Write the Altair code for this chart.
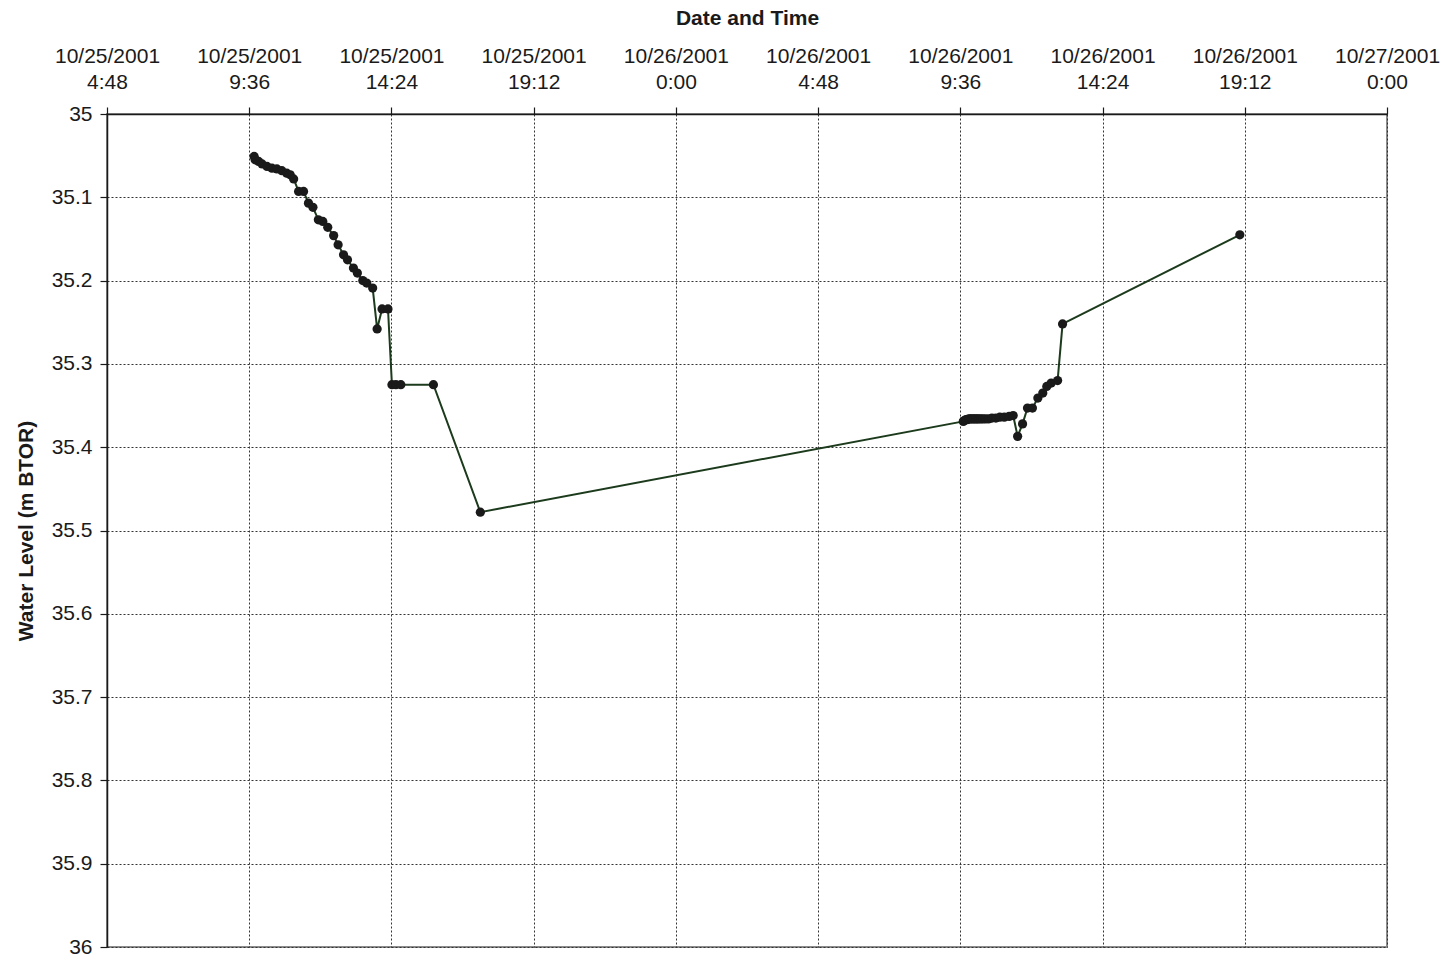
import altair as alt
import pandas as pd

# Water level readings (metres below top of riser), local date-times
times = [
    "2001-10-25 09:46", "2001-10-25 09:48", "2001-10-25 09:55", "2001-10-25 10:02",
    "2001-10-25 10:12", "2001-10-25 10:22", "2001-10-25 10:32", "2001-10-25 10:42",
    "2001-10-25 10:52", "2001-10-25 10:59", "2001-10-25 11:06", "2001-10-25 11:16",
    "2001-10-25 11:26", "2001-10-25 11:36", "2001-10-25 11:45", "2001-10-25 11:56",
    "2001-10-25 12:05", "2001-10-25 12:15", "2001-10-25 12:27", "2001-10-25 12:36",
    "2001-10-25 12:47", "2001-10-25 12:55", "2001-10-25 13:07", "2001-10-25 13:15",
    "2001-10-25 13:26", "2001-10-25 13:34", "2001-10-25 13:46", "2001-10-25 13:55",
    "2001-10-25 14:05", "2001-10-25 14:17", "2001-10-25 14:25", "2001-10-25 14:33",
    "2001-10-25 14:43", "2001-10-25 15:49", "2001-10-25 17:24",
    "2001-10-26 09:42", "2001-10-26 09:44", "2001-10-26 09:47", "2001-10-26 09:50",
    "2001-10-26 09:53", "2001-10-26 09:56", "2001-10-26 09:59", "2001-10-26 10:02",
    "2001-10-26 10:05", "2001-10-26 10:08", "2001-10-26 10:11", "2001-10-26 10:14",
    "2001-10-26 10:18", "2001-10-26 10:22", "2001-10-26 10:27", "2001-10-26 10:33",
    "2001-10-26 10:40", "2001-10-26 10:48", "2001-10-26 10:56", "2001-10-26 11:05",
    "2001-10-26 11:15", "2001-10-26 11:23", "2001-10-26 11:32", "2001-10-26 11:42",
    "2001-10-26 11:52", "2001-10-26 12:02", "2001-10-26 12:13", "2001-10-26 12:23",
    "2001-10-26 12:31", "2001-10-26 12:40", "2001-10-26 12:53", "2001-10-26 13:03",
    "2001-10-26 19:02",
]
levels = [
    35.051, 35.055, 35.057, 35.060, 35.063, 35.065, 35.066, 35.068,
    35.071, 35.073, 35.078, 35.093, 35.093, 35.107, 35.112, 35.127,
    35.129, 35.136, 35.146, 35.157, 35.169, 35.175, 35.185, 35.191,
    35.200, 35.203, 35.209, 35.258, 35.234, 35.234, 35.325, 35.325,
    35.325, 35.325, 35.478,
    35.369, 35.368, 35.367, 35.367, 35.366, 35.366, 35.366, 35.366,
    35.366, 35.366, 35.366, 35.366, 35.366, 35.366, 35.366, 35.366,
    35.365, 35.365, 35.364, 35.364, 35.363, 35.362, 35.387, 35.372,
    35.353, 35.353, 35.341, 35.335, 35.327, 35.323, 35.320, 35.252,
    35.145,
]

# Axis tick positions (every 4 h 48 min)
x_ticks = [
    (2001, 10, 25, 4, 48), (2001, 10, 25, 9, 36), (2001, 10, 25, 14, 24),
    (2001, 10, 25, 19, 12), (2001, 10, 26, 0, 0), (2001, 10, 26, 4, 48),
    (2001, 10, 26, 9, 36), (2001, 10, 26, 14, 24), (2001, 10, 26, 19, 12),
    (2001, 10, 27, 0, 0),
]
y_ticks = [35.0, 35.1, 35.2, 35.3, 35.4, 35.5, 35.6, 35.7, 35.8, 35.9, 36.0]

df = pd.DataFrame({"time": times, "level": levels})


def dt(t):
    return alt.DateTime(year=t[0], month=t[1], date=t[2], hours=t[3], minutes=t[4])


tick_vals = [dt(t) for t in x_ticks]
FONT = "Liberation Sans"

x_enc = alt.X(
    "time:T",
    scale=alt.Scale(domain=[tick_vals[0], tick_vals[-1]], nice=False),
    axis=alt.Axis(
        orient="top",
        values=tick_vals,
        title="Date and Time",
        titleFont=FONT, titleFontSize=21, titleFontWeight="bold", titleColor="#1a1a1a",
        titlePadding=17,
        labelExpr="[timeFormat(datum.value, '%m/%d/%Y'), timeFormat(datum.value, '%-H:%M')]",
        labelFont=FONT, labelFontSize=21, labelColor="#1a1a1a", labelPadding=41,
        labelLineHeight=26, labelFlush=False, labelOverlap=False,
        tickSize=7, tickColor="#1a1a1a", tickWidth=1.2,
        domainColor="#1a1a1a", domainWidth=1.5,
        grid=True, gridColor="#333333", gridDash=[2, 2], gridWidth=1,
    ),
)
y_enc = alt.Y(
    "level:Q",
    scale=alt.Scale(domain=[35, 36], reverse=True, nice=False, zero=False),
    axis=alt.Axis(
        values=y_ticks,
        format=".1~f",
        title="Water Level (m BTOR)",
        titleFont=FONT, titleFontSize=21, titleFontWeight="bold", titleColor="#1a1a1a",
        titlePadding=15,
        labelFont=FONT, labelFontSize=21, labelColor="#1a1a1a", labelPadding=8,
        tickSize=7, tickColor="#1a1a1a", tickWidth=1.2,
        domainColor="#1a1a1a", domainWidth=1.5,
        grid=True, gridColor="#333333", gridDash=[2, 2], gridWidth=1,
    ),
)

line = alt.Chart(df).mark_line(color="#1c3a1c", strokeWidth=2).encode(x=x_enc, y=y_enc)
points = alt.Chart(df).mark_point(
    filled=True, shape="circle", size=85, color="#1a1a1a", opacity=1
).encode(x="time:T", y="level:Q")

chart = (
    alt.layer(line, points)
    .properties(
        width=1280,
        height=833,
        autosize=alt.AutoSizeParams(type="none"),
        padding={"left": 107, "top": 114, "right": 61, "bottom": 13},
        background="white",
    )
    .configure_view(stroke="#8c8c8c", strokeWidth=2)
)

chart.save("out.html", embed_options={"renderer": "svg", "actions": False})
